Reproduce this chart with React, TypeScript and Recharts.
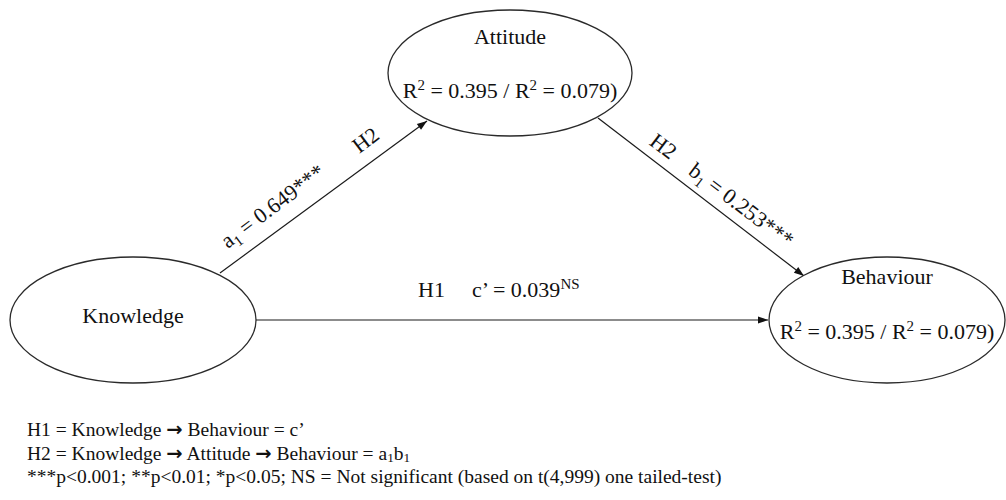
import React from 'react';
import { ScatterChart, Scatter, XAxis, YAxis } from 'recharts';

// ---------- data ----------
const nodeNames = ['Knowledge', 'Attitude', 'Behaviour'];
const nodeR2 = ['', '0.395 / 0.079', '0.395 / 0.079'];
const pathHypothesis = ['H2', 'H2', 'H1'];
const pathSymbols = ['a', 'b', "c'"];
const pathCoefs = ['0.649', '0.253', '0.039'];
const pathSig = ['***', '***', 'NS'];
const footerLines = [
  "H1 = Knowledge \u2192 Behaviour = c\u2019",
  "H2 = Knowledge \u2192 Attitude \u2192 Behaviour = a1b1",
  '***p<0.001; **p<0.01; *p<0.05; NS = Not significant (based on t(4,999) one tailed-test)',
];

// ---------- layout (pixels, chart domain equals pixels) ----------
const W = 1006;
const H = 500;
const FONT = '"Liberation Serif", "Times New Roman", Times, serif';
const nodeLayout = [
  { x: 133, y: 320, rx: 123, ry: 63, ty: 323, r2y: 0 },
  { x: 510, y: 73, rx: 122, ry: 63, ty: 44, r2y: 98 },
  { x: 887, y: 320, rx: 118, ry: 63, ty: 284, r2y: 339 },
];
const arrowLayout = [
  { x1: 220, y1: 273, x2: 427, y2: 121 },
  { x1: 598, y1: 118, x2: 804, y2: 276 },
  { x1: 256, y1: 320, x2: 768, y2: 320 },
];
const hypLayout = [
  { x: 370, y: 146, rot: -37, anchor: 'middle' },
  { x: 659, y: 152, rot: 37, anchor: 'middle' },
  { x: 418, y: 297, rot: 0, anchor: 'start' },
];
const coefLayout = [
  { x: 277, y: 212, rot: -37, anchor: 'middle' },
  { x: 737, y: 211, rot: 37, anchor: 'middle' },
  { x: 472, y: 297, rot: 0, anchor: 'start' },
];
const footerLayout = { x: 27, y0: 436, dy: 23.5, size: 19.5 };

type Part = { t: string; sup?: boolean; sub?: boolean; arrow?: boolean };

function Rich(props: { x: number; y: number; parts: Part[]; size: number; anchor?: string; rot?: number; subShift?: number }) {
  const { x, y, parts, size, anchor = 'middle', rot = 0, subShift = 0.22 } = props;
  let shift = 0;
  const spans = parts.map((p, i) => {
    const target = p.sup ? -size * 0.38 : p.sub ? size * subShift : 0;
    const dy = target - shift;
    shift = target;
    return (
      <tspan
        key={i}
        dy={dy}
        fontSize={p.sup || p.sub ? size * 0.68 : size}
        style={p.arrow ? { fontFamily: '"DejaVu Sans", sans-serif', fontWeight: 'bold' } : undefined}
      >
        {p.t}
      </tspan>
    );
  });
  return (
    <text
      x={x}
      y={y}
      textAnchor={anchor as any}
      fontSize={size}
      fill="#111"
      style={{ whiteSpace: 'pre', fontFamily: FONT }}
      transform={rot ? `rotate(${rot} ${x} ${y})` : undefined}
    >
      {spans}
    </text>
  );
}

// ---------- derived tables ----------
const nodeData = nodeNames.map((name, i) => ({ x: nodeLayout[i].x, y: nodeLayout[i].y, name, i }));
const nodeTitleData = nodeNames.map((name, i) => ({ x: nodeLayout[i].x, y: nodeLayout[i].ty, parts: [{ t: name }] as Part[] }));
const r2Data = nodeR2
  .map((v, i) => {
    if (!v) return null;
    const [a, b] = v.split(' / ');
    const parts: Part[] = [
      { t: 'R' },
      { t: '2', sup: true },
      { t: ' = ' + a + ' / R' },
      { t: '2', sup: true },
      { t: ' = ' + b + ')' },
    ];
    return { x: nodeLayout[i].x, y: nodeLayout[i].r2y, parts };
  })
  .filter(Boolean) as any[];

const arrowData = arrowLayout.map((a) => [
  { x: a.x1, y: a.y1, head: false, ang: 0 },
  { x: a.x2, y: a.y2, head: true, ang: (Math.atan2(a.y2 - a.y1, a.x2 - a.x1) * 180) / Math.PI },
]);

const hypData = pathHypothesis.map((h, i) => ({ x: hypLayout[i].x, y: hypLayout[i].y, rot: hypLayout[i].rot, anchor: hypLayout[i].anchor, parts: [{ t: h }] as Part[] }));
const coefData = pathCoefs.map((c, i) => {
  const sym = pathSymbols[i];
  const parts: Part[] =
    sym === "c'"
      ? [{ t: 'c\u2019 = ' + c }, { t: pathSig[i], sup: true }]
      : [{ t: sym }, { t: '1', sub: true }, { t: ' = ' + c + pathSig[i] }];
  return { x: coefLayout[i].x, y: coefLayout[i].y, rot: coefLayout[i].rot, anchor: coefLayout[i].anchor, parts };
});

function footerParts(line: string): Part[] {
  const out: Part[] = [];
  const segs = line.split('\u2192');
  segs.forEach((s, i) => {
    if (i > 0) out.push({ t: '\u2192', arrow: true });
    if (s.endsWith('a1b1')) {
      out.push({ t: s.slice(0, -4) + 'a' }, { t: '1', sub: true }, { t: 'b' }, { t: '1', sub: true });
    } else out.push({ t: s });
  });
  return out;
}
const footerData = footerLines.map((l, i) => ({
  x: footerLayout.x,
  y: footerLayout.y0 + i * footerLayout.dy,
  anchor: 'start',
  parts: footerParts(l),
}));

const EllipseShape = (p: any) => {
  const l = nodeLayout[p.payload.i];
  return <ellipse cx={p.cx} cy={p.cy} rx={l.rx} ry={l.ry} fill="#fff" stroke="#2a2a2a" strokeWidth={1.3} />;
};
const HeadShape = (p: any) => {
  if (!p.payload.head) return <g />;
  const L = 10;
  const hw = 3.6;
  return (
    <polygon
      points={`0,0 ${-L},${-hw} ${-L},${hw}`}
      fill="#111"
      transform={`translate(${p.cx} ${p.cy}) rotate(${p.payload.ang})`}
    />
  );
};
const TextShape = (size: number, subShift = 0.22) => (p: any) => (
  <Rich
    x={p.cx}
    y={p.cy}
    parts={p.payload.parts}
    size={size}
    anchor={p.payload.anchor ?? 'middle'}
    rot={p.payload.rot ?? 0}
    subShift={subShift}
  />
);

export default function App() {
  return (
    <div style={{ position: 'absolute', left: 0, top: 0, width: W, height: H, background: '#fff' }}>
      <ScatterChart width={W} height={H} margin={{ top: 0, right: 0, bottom: 0, left: 0 }}>
        <XAxis type="number" dataKey="x" domain={[0, W]} allowDataOverflow hide />
        <YAxis type="number" dataKey="y" domain={[0, H]} allowDataOverflow reversed hide />
        {arrowData.map((d, i) => (
          <Scatter
            key={'a' + i}
            data={d}
            line={{ stroke: '#1a1a1a', strokeWidth: 1.2 }}
            shape={HeadShape}
            isAnimationActive={false}
          />
        ))}
        <Scatter data={nodeData} shape={EllipseShape} isAnimationActive={false} />
        <Scatter data={nodeTitleData} shape={TextShape(22)} isAnimationActive={false} />
        <Scatter data={r2Data} shape={TextShape(22)} isAnimationActive={false} />
        <Scatter data={hypData} shape={TextShape(22)} isAnimationActive={false} />
        <Scatter data={coefData} shape={TextShape(22)} isAnimationActive={false} />
        <Scatter data={footerData} shape={TextShape(footerLayout.size, 0.12)} isAnimationActive={false} />
      </ScatterChart>
    </div>
  );
}
